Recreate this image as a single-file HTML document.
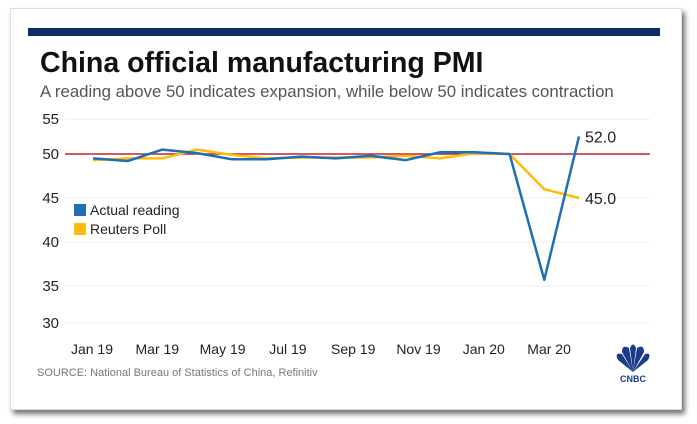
<!DOCTYPE html>
<html><head><meta charset="utf-8"><style>
body{margin:0;width:697px;height:424px;background:#fff;overflow:hidden;font-family:"Liberation Sans",sans-serif}
#card{position:absolute;left:10px;top:8px;width:670px;height:400px;background:#fff;box-shadow:3px 4px 5px rgba(0,0,0,.55);border:1px solid #ddd}
</style></head><body>
<div id="card"></div>
<svg width="697" height="424" style="position:absolute;left:0;top:0">
<rect x="28" y="28" width="632" height="8" fill="#0b2c64"/>
<text x="40" y="72" font-size="28.5" font-weight="bold" fill="#111">China official manufacturing PMI</text>
<text x="40" y="97" font-size="16.8" fill="#555">A reading above 50 indicates expansion, while below 50 indicates contraction</text>
<g id="grid"></g><g id="lines"></g><g id="labels"></g>
<rect x="74" y="204" width="12" height="12" fill="#1f6fb5"/>
<text x="90" y="215" font-size="14" fill="#222">Actual reading</text>
<rect x="74" y="223" width="12" height="12" fill="#fdbb0b"/>
<text x="90" y="234" font-size="14" fill="#222">Reuters Poll</text>
<text x="37" y="376" font-size="11" fill="#777">SOURCE: National Bureau of Statistics of China, Refinitiv</text>
<g>
<path d="M633 372 L618 360 Q614 352 622 354 Z M633 372 L622 352 Q622 344 629 348 Z M633 372 L630 348 Q633 341 636 348 Z M633 372 L637 348 Q644 344 644 352 Z M633 372 L645 354 Q652 352 648 360 Z" fill="#1a3a8a"/>
<text x="633" y="382" font-size="9" font-weight="bold" fill="#1a3a8a" text-anchor="middle">CNBC</text>
</g>
</svg>
<script>
const months=["Jan 19","Feb 19","Mar 19","Apr 19","May 19","Jun 19","Jul 19","Aug 19","Sep 19","Oct 19","Nov 19","Dec 19","Jan 20","Feb 20","Mar 20"];
const actual=[49.5,49.2,50.5,50.1,49.4,49.4,49.7,49.5,49.8,49.3,50.2,50.2,50.0,35.7,52.0];
const poll=[49.3,49.5,49.5,50.5,49.9,49.5,49.6,49.6,49.6,49.8,49.5,50.1,50.0,46.0,45.0];
const yTicks=[55,50,45,40,35,30];
const xTickLabels=["Jan 19","Mar 19","May 19","Jul 19","Sep 19","Nov 19","Jan 20","Mar 20"];
const ns="http://www.w3.org/2000/svg";
const x=i=>93+i*(579-93)/(months.length-1);
const y=v=>154+(50-v)*8.8;
const g=document.getElementById('grid'),L=document.getElementById('lines'),T=document.getElementById('labels');
function mk(t,a,p){const e=document.createElementNS(ns,t);for(const k in a)e.setAttribute(k,a[k]);p.appendChild(e);return e;}
yTicks.forEach(v=>{
 const yy=Math.min(Math.max(y(v),119),323);
 const ln=mk('line',{x1:65,x2:650,y1:yy,y2:yy,stroke:v===50?'#c0272d':'#eee','stroke-width':v===50?1.5:1},g);
 
 
 const t=mk('text',{x:59,y:yy+5,'font-size':15,fill:'#222','text-anchor':'end'},T);
 t.textContent=v;
 
 
});
xTickLabels.forEach((s,i)=>{
 const t=mk('text',{x:92+i*65.3,y:354,'font-size':14,fill:'#222','text-anchor':'middle'},T);
 t.textContent=s;
 
 
});
function series(d,c,n){
 const p=mk('polyline',{points:d.map((v,i)=>x(i)+','+y(v)).join(' '),fill:'none',stroke:c,'stroke-width':2.5,'stroke-linejoin':'round'},L);
 
 
 const last=d.length-1;
 const t=mk('text',{x:x(last)+6,y:y(d[last])+6,'font-size':16,fill:'#222'},T);
 t.textContent=d[last].toFixed(1);
 
 
}
series(poll,'#fdbb0b','reuters-poll-line');
series(actual,'#1f6fb5','actual-reading-line');
</script>
</body></html>
